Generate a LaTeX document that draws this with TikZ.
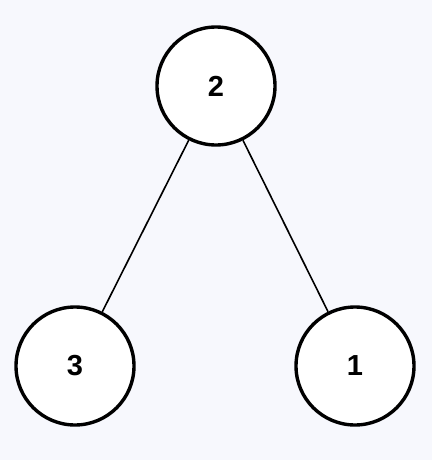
\documentclass[tikz,border=0pt]{standalone}
\usepackage{fontspec}
\setmainfont{Liberation Sans}
\definecolor{bg}{HTML}{F7F8FD}
\begin{document}
\begin{tikzpicture}[x=1pt,y=-1pt,
  vert/.style={circle,draw=black,fill=white,line width=3.4pt,minimum size=118pt,inner sep=0pt,font=\bfseries\fontsize{29}{29}\selectfont},
  edge/.style={draw=black,line width=1.6pt}]
\fill[bg] (0,0) rectangle (432,460);
\useasboundingbox (0,0) rectangle (432,460);
\node[vert] (n2) at (216,86) {2};
\node[vert] (n3) at (75,366) {3};
\node[vert] (n1) at (355,366) {1};
\draw[edge] (n2) -- (n3);
\draw[edge] (n2) -- (n1);
\end{tikzpicture}
\end{document}
